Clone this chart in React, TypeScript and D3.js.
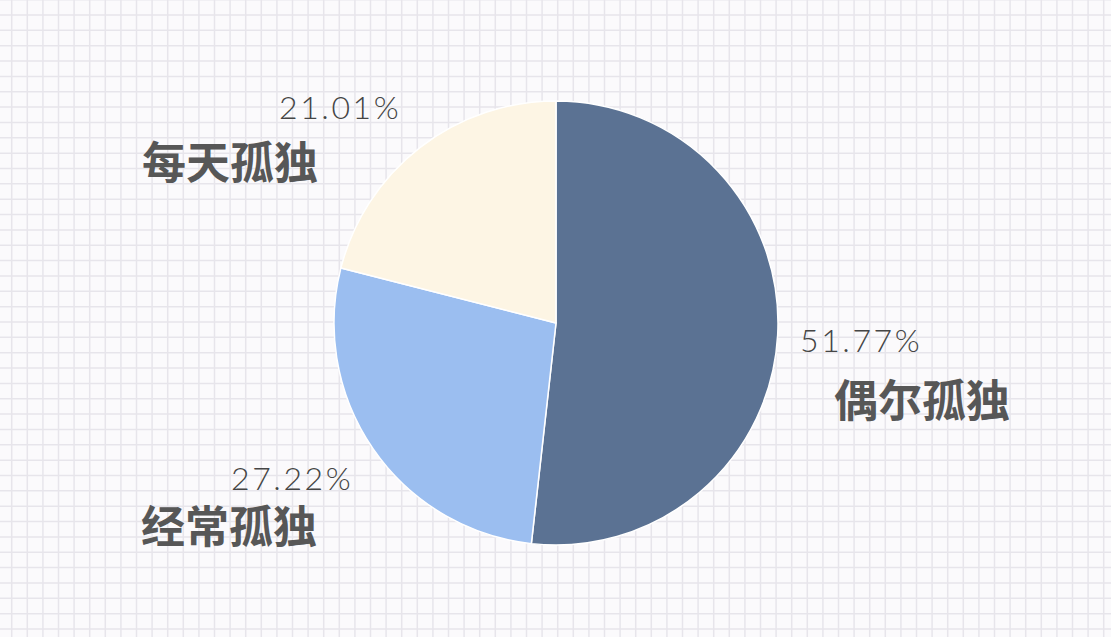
import React from "react";
import * as d3 from "d3";

const categories = ["偶尔孤独", "经常孤独", "每天孤独"];
const values = [51.77, 27.22, 21.01];
const valueLabels = ["51.77%", "27.22%", "21.01%"];
const colors = ["#5b7293", "#9bbef0", "#fdf5e4"];

const W = 1111;
const H = 637;

// label layout: [pctX, pctBaseline, nameX, nameBaseline]
const labelPos: [number, number, number, number][] = [
  [800, 352, 834, 417],
  [231, 490, 141, 543],
  [279, 119, 142, 179],
];

export default function App() {
  const cx = 556;
  const cy = 323;
  const r = 222;
  const pie = d3.pie<number>().sort(null).value((d) => d)(values);
  const arc = d3.arc<d3.PieArcDatum<number>>().innerRadius(0).outerRadius(r);

  const sx = 15.6;
  const sy = 15.35;
  const vlines = d3.range(11.7 - sx, W + sx, sx);
  const hlines = d3.range(15 - sy, H + sy, sy);

  return (
    <svg
      width={W}
      height={H}
      style={{ position: "fixed", left: 0, top: 0, display: "block" }}
    >
      <rect x={0} y={0} width={W} height={H} fill="#fbfafc" />
      <g stroke="#e7e5eb" strokeWidth={1.5}>
        {vlines.map((x, i) => (
          <line key={"v" + i} x1={x} x2={x} y1={0} y2={H} />
        ))}
        {hlines.map((y, i) => (
          <line key={"h" + i} x1={0} x2={W} y1={y} y2={y} />
        ))}
      </g>
      <g transform={`translate(${cx},${cy})`}>
        {pie.map((p, i) => (
          <path
            key={i}
            d={arc(p) || ""}
            fill={colors[i]}
            stroke="#ffffff"
            strokeWidth={1.5}
            strokeLinejoin="round"
          />
        ))}
      </g>
      {categories.map((c, i) => {
        const [px, py, nx, ny] = labelPos[i];
        return (
          <g key={c}>
            <text
              x={px}
              y={py}
              fontFamily="Lato, 'Open Sans', sans-serif"
              fontWeight={300}
              fontSize={32}
              letterSpacing={2.6}
              fill="#454545"
            >
              {valueLabels[i]}
            </text>
            <text
              x={nx}
              y={ny}
              fontFamily="'Noto Sans CJK SC', sans-serif"
              fontWeight={700}
              fontSize={44}
              fill="#575757"
            >
              {c}
            </text>
          </g>
        );
      })}
    </svg>
  );
}
